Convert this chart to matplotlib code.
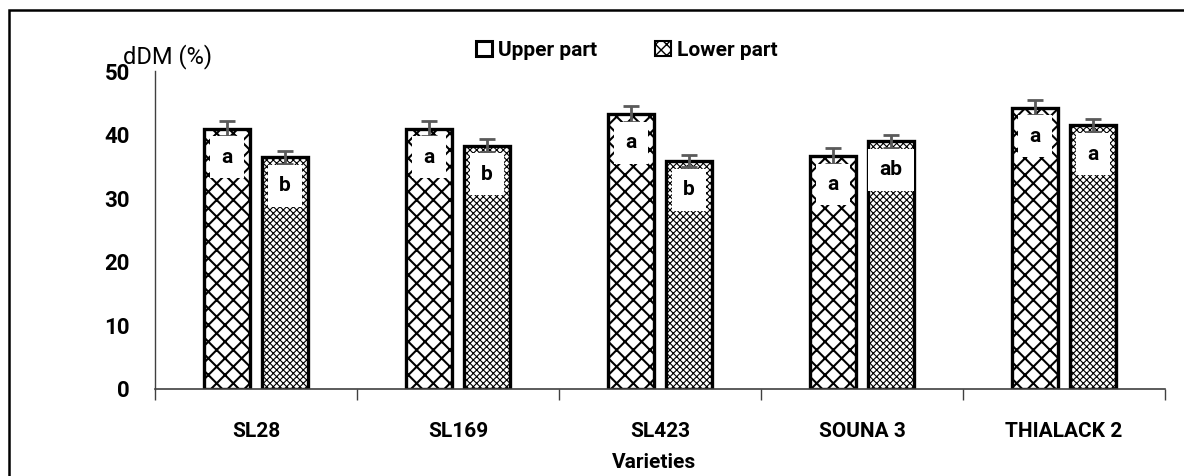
import matplotlib
matplotlib.use("Agg")
import matplotlib.pyplot as plt
from matplotlib.patches import Rectangle, Patch
import numpy as np

plt.rcParams['font.family'] = ['Roboto', 'DejaVu Sans']

varieties = ["SL28", "SL169", "SL423", "SOUNA 3", "THIALACK 2"]
upper = [41.0, 41.0, 43.3, 36.7, 44.3]
lower = [36.5, 38.3, 35.9, 39.0, 41.5]
upper_err = [1.2, 1.2, 1.2, 1.2, 1.2]
lower_err = [1.0, 1.0, 1.0, 1.0, 1.0]
upper_let = ["a", "a", "a", "a", "a"]
lower_let = ["b", "b", "b", "ab", "a"]

fig = plt.figure(figsize=(11.84, 4.76), dpi=100)
ax = fig.add_axes([0.1309, 0.1828, 0.8530, 0.6670])

# outer frame (right and bottom edge are cut off in the original)
fig.patches.append(Rectangle((9/1184, -0.2), 1.2, 1 - 10/476 + 0.2,
                             transform=fig.transFigure, fill=False,
                             edgecolor='black', linewidth=1.8))

x = np.arange(len(varieties))
off = 0.1436
w = 0.228
b1 = ax.bar(x - off, upper, w, color='white', edgecolor='black', linewidth=2.4,
            hatch='xx', label='Upper part', zorder=2)
b2 = ax.bar(x + off, lower, w, color='white', edgecolor='black', linewidth=2.4,
            hatch='xxxxx', label='Lower part', zorder=2)
for p in b1:
    p.set_hatch_linewidth(1.5)
for p in b2:
    p.set_hatch_linewidth(0.8)
ax.errorbar(x - off, upper, yerr=upper_err, fmt='none', ecolor='#5a5a5a',
            elinewidth=2, capsize=6, capthick=2, zorder=3)
ax.errorbar(x + off, lower, yerr=lower_err, fmt='none', ecolor='#5a5a5a',
            elinewidth=2, capsize=6, capthick=2, zorder=3)

for i in range(len(varieties)):
    ax.text(x[i] - off, upper[i] - 4.5, upper_let[i], ha='center', va='center',
            fontsize=15, fontweight='bold', zorder=4,
            bbox=dict(boxstyle='square,pad=0.55', facecolor='white', edgecolor='none'))
    ax.text(x[i] + off, lower[i] - 4.5, lower_let[i], ha='center', va='center',
            fontsize=15, fontweight='bold', zorder=4,
            bbox=dict(boxstyle='square,pad=0.55', facecolor='white', edgecolor='none'))

ax.set_xlim(-0.5, 4.5)
ax.set_ylim(0, 50)
ax.set_yticks([0, 10, 20, 30, 40, 50])
ax.tick_params(axis='y', length=0, pad=18, labelsize=16)
for t in ax.get_yticklabels():
    t.set_fontweight('bold')
ax.set_xticks(x)
ax.set_xticklabels(varieties, fontsize=15, fontweight='bold')
ax.tick_params(axis='x', length=0, pad=24)
ax.set_xticks(np.arange(-0.5, 5.0, 1.0), minor=True)
ax.tick_params(axis='x', which='minor', length=8, width=1, color='#404040', direction='out')

for s in ['top', 'right']:
    ax.spines[s].set_visible(False)
ax.spines['left'].set_color('#404040')
ax.spines['bottom'].set_color('#404040')
ax.spines['left'].set_linewidth(1)
ax.spines['bottom'].set_linewidth(1.2)

fig.text(123/1184, 1 - 57/476, "dDM (%)", fontsize=17, va='center', ha='left')
fig.text(0.5 * (155 + 1165) / 1184 - 0.005, 1 - 463/476, "Varieties", fontsize=15,
         fontweight='bold', ha='center', va='center')

handles = [Patch(facecolor='white', edgecolor='black', linewidth=2.2),
           Patch(facecolor='white', edgecolor='black', linewidth=1.5, hatch='xxx')]
leg = fig.legend(handles, ['Upper part', 'Lower part'], loc='center',
                 bbox_to_anchor=(627/1184, 1 - 50/476), ncol=2, frameon=False,
                 handlelength=0.75, handleheight=0.75, handletextpad=0.3,
                 columnspacing=2.8, prop={'weight': 'bold', 'size': 15})

fig.savefig("out.png", dpi=100)
